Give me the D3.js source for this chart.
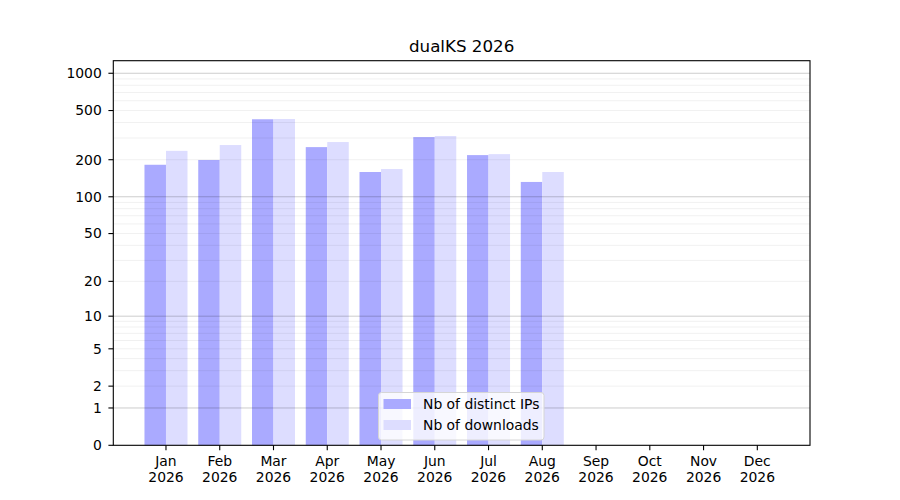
<!DOCTYPE html>
<html><head><meta charset="utf-8">
<script src="https://cdn.jsdelivr.net/npm/d3@7"></script>
<style>body{margin:0;background:#fff}</style>
</head><body>
<svg id="c" width="900" height="500"></svg>
<script>
const months = ["Jan","Feb","Mar","Apr","May","Jun","Jul","Aug","Sep","Oct","Nov","Dec"];
const year = "2026";
const distinctIPs = [182, 199, 425, 253, 159, 305, 218, 132];
const downloads = [236, 263, 427, 278, 168, 311, 222, 159];
const yTicks = [0, 1, 2, 5, 10, 20, 50, 100, 200, 500, 1000];
const majorGrid = [1, 10, 100, 1000];
const minorGrid = [2,3,4,5,6,7,8,9,20,30,40,50,60,70,80,90,200,300,400,500,600,700,800,900];
const seriesNames = ["Nb of distinct IPs", "Nb of downloads"];
const colors = ["#aaaaff", "#ddddff"];
const title = "dualKS 2026";

const svg = d3.select("#c");
const L = 113.3, R = 810, T = 60.7, B = 445.3;
const font = "DejaVu Sans, sans-serif";
const fs = 13.9;

const x = d3.scaleLinear().domain([-0.98, 11.98]).range([L, R]);
const logS = d3.scaleLog().domain([1, 1264]).range([B, T]);
const y = v => logS(v + 1);
const bw = (x(1) - x(0)) * 0.4;

// bars
const g = svg.append("g");
g.selectAll("rect.ip").data(distinctIPs).join("rect")
  .attr("x", (d,i) => x(i) - bw).attr("width", bw)
  .attr("y", d => y(d)).attr("height", d => B - y(d))
  .attr("fill", colors[0]);
g.selectAll("rect.dl").data(downloads).join("rect")
  .attr("x", (d,i) => x(i)).attr("width", bw)
  .attr("y", d => y(d)).attr("height", d => B - y(d))
  .attr("fill", colors[1]);

// grid
svg.append("g").selectAll("line").data(minorGrid).join("line")
  .attr("x1", L).attr("x2", R).attr("y1", d => y(d)).attr("y2", d => y(d))
  .attr("stroke", "rgba(0,0,0,0.08)").attr("stroke-width", 0.8);
svg.append("g").selectAll("line").data(majorGrid).join("line")
  .attr("x1", L).attr("x2", R).attr("y1", d => y(d)).attr("y2", d => y(d))
  .attr("stroke", "rgba(0,0,0,0.25)").attr("stroke-width", 0.8);

// frame
svg.append("rect").attr("x", L).attr("y", T).attr("width", R - L).attr("height", B - T)
  .attr("fill", "none").attr("stroke", "#000").attr("stroke-width", 1.1);

// y ticks
const yt = svg.append("g");
yTicks.forEach(v => {
  yt.append("line").attr("x1", L - 4.9).attr("x2", L).attr("y1", y(v)).attr("y2", y(v))
    .attr("stroke", "#000").attr("stroke-width", 1.1);
  yt.append("text").attr("x", L - 11.5).attr("y", y(v)).attr("dy", "0.35em")
    .attr("text-anchor", "end").attr("font-family", font).attr("font-size", fs)
    .attr("fill", "#000").text(v);
});

// x ticks
const xt = svg.append("g");
months.forEach((m, i) => {
  xt.append("line").attr("x1", x(i)).attr("x2", x(i)).attr("y1", B).attr("y2", B + 4.9)
    .attr("stroke", "#000").attr("stroke-width", 1.1);
  const t = xt.append("text").attr("text-anchor", "middle").attr("font-family", font)
    .attr("font-size", fs).attr("fill", "#000");
  t.append("tspan").attr("x", x(i)).attr("y", 466).text(m);
  t.append("tspan").attr("x", x(i)).attr("y", 482).text(year);
});

// title
svg.append("text").attr("x", (L + R) / 2).attr("y", 52).attr("text-anchor", "middle")
  .attr("font-family", font).attr("font-size", 16.7).attr("fill", "#000").text(title);

// legend
const lg = svg.append("g");
lg.append("rect").attr("x", 378.5).attr("y", 392.5).attr("width", 165.5).attr("height", 47.5)
  .attr("rx", 3).attr("fill", "rgba(255,255,255,0.8)").attr("stroke", "#d6d6d6").attr("stroke-width", 1);
seriesNames.forEach((n, i) => {
  const yy = 399 + i * 21;
  lg.append("rect").attr("x", 383.5).attr("y", yy).attr("width", 27.5).attr("height", 10)
    .attr("fill", colors[i]);
  lg.append("text").attr("x", 423).attr("y", yy + 5).attr("dy", "0.35em")
    .attr("font-family", font).attr("font-size", fs).attr("fill", "#000").text(n);
});
</script>
</body></html>
